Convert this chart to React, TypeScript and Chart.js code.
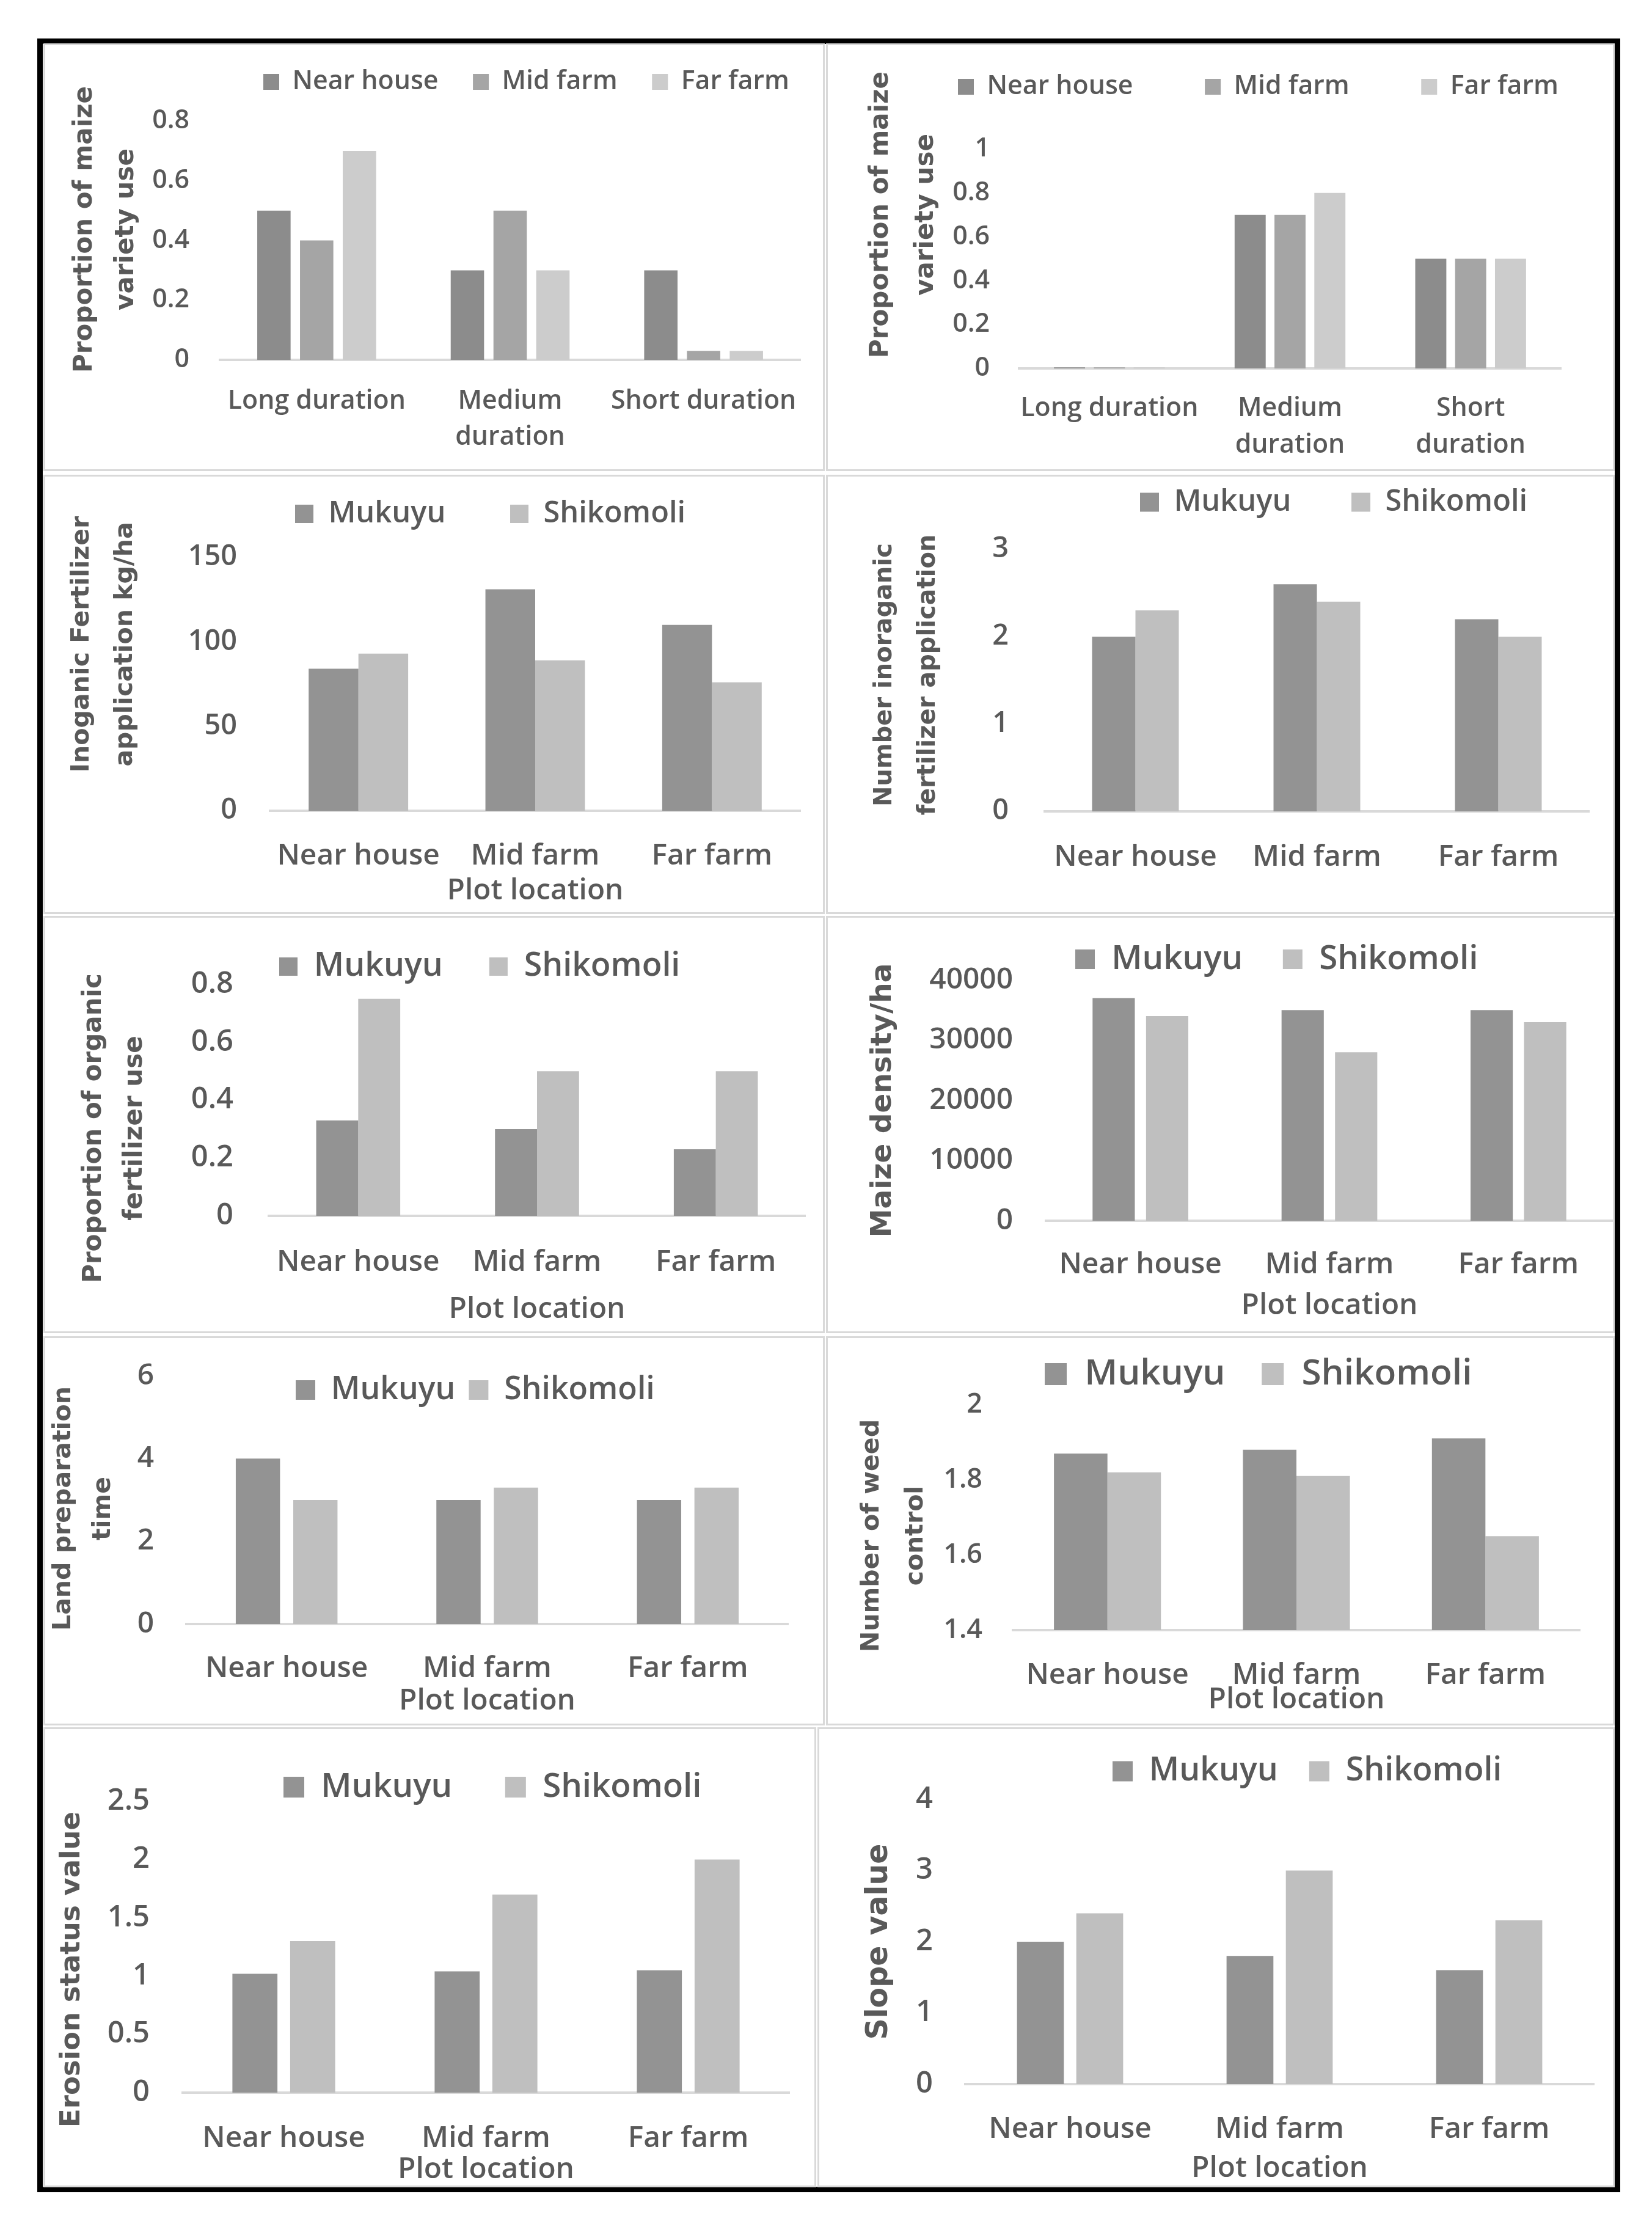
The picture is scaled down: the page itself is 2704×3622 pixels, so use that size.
import React, { useEffect, useRef } from 'react';
import { Chart, registerables } from 'chart.js';

Chart.register(...registerables);

// ---------------- data ----------------
const durationCatsA: (string | string[])[] = ['Long duration', ['Medium', 'duration'], 'Short duration'];
const durationCatsB: (string | string[])[] = ['Long duration', ['Medium', 'duration'], ['Short', 'duration']];
const plotCats: string[] = ['Near house', 'Mid farm', 'Far farm'];
const locationNames: string[] = ['Near house', 'Mid farm', 'Far farm'];
const varietyNames: string[] = ['Mukuyu', 'Shikomoli'];

const varietyUseANear = [0.5, 0.3, 0.3];
const varietyUseAMid = [0.4, 0.5, 0.03];
const varietyUseAFar = [0.7, 0.3, 0.03];
const varietyUseBNear = [0.005, 0.7, 0.5];
const varietyUseBMid = [0.005, 0.7, 0.5];
const varietyUseBFar = [0.005, 0.8, 0.5];
const inorgKgMukuyu = [84, 131, 110];
const inorgKgShikomoli = [93, 89, 76];
const inorgCountMukuyu = [2.0, 2.6, 2.2];
const inorgCountShikomoli = [2.3, 2.4, 2.0];
const organicMukuyu = [0.33, 0.3, 0.23];
const organicShikomoli = [0.75, 0.5, 0.5];
const densityMukuyu = [37000, 35000, 35000];
const densityShikomoli = [34000, 28000, 33000];
const landPrepMukuyu = [4, 3, 3];
const landPrepShikomoli = [3, 3.3, 3.3];
const weedMukuyu = [1.87, 1.88, 1.91];
const weedShikomoli = [1.82, 1.81, 1.65];
const erosionMukuyu = [1.02, 1.04, 1.05];
const erosionShikomoli = [1.3, 1.7, 2.0];
const slopeMukuyu = [2.0, 1.8, 1.6];
const slopeShikomoli = [2.4, 3.0, 2.3];

// ---------------- styles ----------------
const TEXT = '#595959';
const AXIS = '#d9d9d9';
const TICK_FONT = "'Open Sans', 'Noto Sans', sans-serif";
const TICK_WEIGHT = '600';
const TITLE_FONT = "'DejaVu Sans', Verdana, sans-serif";
const C3 = ['#8c8c8c', '#a5a5a5', '#cccccc'];
const C2 = ['#939393', '#bfbfbf'];
const FONT_SCALE = 0.975;
const BOX_TEXT_GAP = 17;

type Series = { label: string; data: number[]; color: string };
type PanelCfg = {
  box: [number, number, number, number];
  plot: [number, number, number, number];
  labels: (string | string[])[];
  series: Series[];
  y: { min: number; max: number; step: number };
  yTick: { size: number; right: number };
  yTitle: { text: string | string[]; size: number; gap: number; x: number; dy: number };
  legend: { y: number; x: number; size: number; gap: number; box: number };
  xTick: { size: number; y: number; gap: number };
  xTitle?: { y: number; size: number };
  cp: number;
  bp: number;
};

const three = (a: number[], b: number[], c: number[]): Series[] => [
  { label: locationNames[0], data: a, color: C3[0] },
  { label: locationNames[1], data: b, color: C3[1] },
  { label: locationNames[2], data: c, color: C3[2] },
];
const two = (a: number[], b: number[]): Series[] => [
  { label: varietyNames[0], data: a, color: C2[0] },
  { label: varietyNames[1], data: b, color: C2[1] },
];

const panels: PanelCfg[] = [
  {
    box: [71, 71, 1350, 771], plot: [360, 198, 1310, 589], labels: durationCatsA,
    series: three(varietyUseANear, varietyUseAMid, varietyUseAFar),
    y: { min: 0, max: 0.8, step: 0.2 }, yTick: { size: 44, right: 310 },
    yTitle: { text: ['Proportion of maize', 'variety use'], size: 42, gap: 68, x: 139, dy: -18 },
    legend: { y: 134, x: 431, size: 44, gap: 61, box: 26 },
    xTick: { size: 44, y: 657, gap: 59 }, cp: 0.663, bp: 0.78,
  },
  {
    box: [1352, 71, 2643, 771], plot: [1668, 244, 2555, 603], labels: durationCatsB,
    series: three(varietyUseBNear, varietyUseBMid, varietyUseBFar),
    y: { min: 0, max: 1, step: 0.2 }, yTick: { size: 44, right: 1620 },
    yTitle: { text: ['Proportion of maize', 'variety use'], size: 42, gap: 74, x: 1442, dy: -72 },
    legend: { y: 142, x: 1568, size: 44, gap: 122, box: 26 },
    xTick: { size: 44, y: 669, gap: 60 }, cp: 0.662, bp: 0.78,
  },
  {
    box: [71, 777, 1350, 1496], plot: [442, 912, 1310, 1327], labels: plotCats,
    series: two(inorgKgMukuyu, inorgKgShikomoli),
    y: { min: 0, max: 150, step: 50 }, yTick: { size: 48, right: 388 },
    yTitle: { text: ['Inoganic Fertilizer', 'application kg/ha'], size: 41, gap: 71, x: 134, dy: -65 },
    legend: { y: 841, x: 483, size: 50, gap: 113, box: 30 },
    xTick: { size: 49, y: 1401, gap: 59 }, xTitle: { y: 1458, size: 49 }, cp: 0.563, bp: 1,
  },
  {
    box: [1352, 777, 2643, 1496], plot: [1710, 899, 2601, 1328], labels: plotCats,
    series: two(inorgCountMukuyu, inorgCountShikomoli),
    y: { min: 0, max: 3, step: 1 }, yTick: { size: 48, right: 1651 },
    yTitle: { text: ['Number inoraganic', 'fertilizer application'], size: 40, gap: 71, x: 1449, dy: -9 },
    legend: { y: 822, x: 1866, size: 50, gap: 106, box: 31 },
    xTick: { size: 49, y: 1403, gap: 59 }, cp: 0.478, bp: 1,
  },
  {
    box: [71, 1499, 1350, 2182], plot: [440, 1611, 1318, 1990], labels: plotCats,
    series: two(organicMukuyu, organicShikomoli),
    y: { min: 0, max: 0.8, step: 0.2 }, yTick: { size: 50, right: 382 },
    yTitle: { text: ['Proportion of organic', 'fertilizer use'], size: 42, gap: 67, x: 154, dy: 46 },
    legend: { y: 1582, x: 457, size: 55, gap: 86, box: 30 },
    xTick: { size: 49, y: 2066, gap: 59 }, xTitle: { y: 2143, size: 49 }, cp: 0.47, bp: 1,
  },
  {
    box: [1352, 1499, 2643, 2182], plot: [1712, 1604, 2640, 1998], labels: plotCats,
    series: two(densityMukuyu, densityShikomoli),
    y: { min: 0, max: 40000, step: 10000 }, yTick: { size: 49, right: 1658 },
    yTitle: { text: 'Maize density/ha', size: 47, gap: 56, x: 1446, dy: 0 },
    legend: { y: 1570, x: 1760, size: 56, gap: 76, box: 32 },
    xTick: { size: 49, y: 2070, gap: 59 }, xTitle: { y: 2137, size: 49 }, cp: 0.566, bp: 0.79,
  },
  {
    box: [71, 2187, 1350, 2824], plot: [305, 2252, 1290, 2658], labels: plotCats,
    series: two(landPrepMukuyu, landPrepShikomoli),
    y: { min: 0, max: 6, step: 2 }, yTick: { size: 49, right: 252 },
    yTitle: { text: ['Land preparation', 'time'], size: 41, gap: 65, x: 104, dy: 14 },
    legend: { y: 2275, x: 484, size: 53, gap: 31, box: 32 },
    xTick: { size: 49, y: 2731, gap: 59 }, xTitle: { y: 2784, size: 49 }, cp: 0.573, bp: 0.77,
  },
  {
    box: [1352, 2187, 2643, 2824], plot: [1658, 2299, 2586, 2668], labels: plotCats,
    series: two(weedMukuyu, weedShikomoli),
    y: { min: 1.4, max: 2, step: 0.2 }, yTick: { size: 46, right: 1608 },
    yTitle: { text: ['Number of weed', 'control'], size: 41, gap: 72, x: 1427, dy: 30 },
    legend: { y: 2249, x: 1710, size: 60, gap: 72, box: 36 },
    xTick: { size: 49, y: 2742, gap: 59 }, xTitle: { y: 2782, size: 49 }, cp: 0.566, bp: 1,
  },
  {
    box: [71, 2827, 1336, 3580], plot: [299, 2948, 1292, 3425], labels: plotCats,
    series: two(erosionMukuyu, erosionShikomoli),
    y: { min: 0, max: 2.5, step: 0.5 }, yTick: { size: 50, right: 245 },
    yTitle: { text: 'Erosion status value', size: 45, gap: 54, x: 118, dy: 37 },
    legend: { y: 2925, x: 464, size: 56, gap: 97, box: 34 },
    xTick: { size: 49, y: 3500, gap: 59 }, xTitle: { y: 3551, size: 49 }, cp: 0.571, bp: 0.78,
  },
  {
    box: [1338, 2827, 2643, 3580], plot: [1580, 2945, 2609, 3411], labels: plotCats,
    series: two(slopeMukuyu, slopeShikomoli),
    y: { min: 0, max: 4, step: 1 }, yTick: { size: 50, right: 1527 },
    yTitle: { text: 'Slope value', size: 49, gap: 59, x: 1439, dy: 0 },
    legend: { y: 2899, x: 1821, size: 55, gap: 61, box: 33 },
    xTick: { size: 49, y: 3485, gap: 59 }, xTitle: { y: 3549, size: 49 }, cp: 0.566, bp: 0.79,
  },
];

const fmt = (v: number | string) => String(Math.round(Number(v) * 1000) / 1000);
const fs = (n: number) => Math.round(n * FONT_SCALE * 10) / 10;

function ChartPanel({ cfg }: { cfg: PanelCfg }) {
  const ref = useRef<HTMLCanvasElement>(null);
  const [x0, y0, x1, y1] = cfg.box;
  const W = x1 - x0;
  const H = y1 - y0;

  useEffect(() => {
    const canvas = ref.current;
    if (!canvas) return;
    const pl = cfg.plot[0] - x0;
    const pt = cfg.plot[1] - y0;
    const pr = cfg.plot[2] - x0;
    const pb = cfg.plot[3] - y0;
    const lg = cfg.legend;
    const legendSize = fs(lg.size);
    const legendPad = Math.max(4, lg.gap + BOX_TEXT_GAP - legendSize / 2);
    const legendLeft = lg.x - x0 - legendPad;
    const legendTop = lg.y - y0 - legendPad - legendSize / 2;
    const yTitleLH = cfg.yTitle.gap;
    const yTitlePad = cfg.yTitle.x - x0 - yTitleLH / 2;
    const titleDy = cfg.yTitle.dy;
    const xTickPad = cfg.xTick.y - cfg.plot[3] - cfg.xTick.gap / 2;
    const xTickSize = fs(cfg.xTick.size);
    const xTitleSize = fs(cfg.xTitle ? cfg.xTitle.size : 49);
    const xTitleLH = xTitleSize * 1.2;
    const xTitlePad = cfg.xTitle ? Math.max(0, H - (cfg.xTitle.y - y0) - xTitleLH / 2) : 0;

    const layoutPlugin = {
      id: 'panelLayout',
      beforeLayout(chart: any) {
        const legend = chart.legend;
        if (legend && !legend.__patched) {
          const orig = legend.fit;
          legend.fit = function (this: any) {
            this.maxWidth = 100000;
            orig.call(this);
            this.height = pt;
          };
          legend.__patched = true;
        }
      },
      afterLayout(chart: any) {
        const legend = chart.legend;
        if (legend) {
          legend.left = legendLeft;
          legend.right = 100000;
          legend.top = legendTop;
          legend.bottom = legendTop + 2000;
        }
        const ys = chart.scales && chart.scales.y;
        if (ys && !ys.__titlePatched) {
          const origTitle = ys.drawTitle;
          ys.drawTitle = function (this: any) {
            const ctx = this.ctx;
            ctx.save();
            ctx.translate(0, titleDy);
            origTitle.call(this);
            ctx.restore();
          };
          ys.__titlePatched = true;
        }
      },
    };

    const chart = new Chart(canvas, {
      type: 'bar',
      data: {
        labels: cfg.labels as any,
        datasets: cfg.series.map((s) => ({
          label: s.label,
          data: s.data,
          backgroundColor: s.color,
          borderColor: s.color,
          borderWidth: 0,
          categoryPercentage: cfg.cp,
          barPercentage: cfg.bp,
        })),
      },
      options: {
        responsive: false,
        animation: false,
        devicePixelRatio: 1,
        events: [],
        layout: { padding: { left: 0, top: 0, right: W - pr, bottom: 0 } },
        plugins: {
          tooltip: { enabled: false },
          legend: {
            display: true,
            position: 'top',
            align: 'start',
            labels: {
              color: TEXT,
              font: { family: TICK_FONT, size: legendSize, weight: TICK_WEIGHT },
              boxWidth: lg.box,
              boxHeight: lg.box,
              padding: legendPad,
            },
          },
        },
        scales: {
          x: {
            type: 'category',
            offset: true,
            grid: { display: false, drawTicks: false },
            border: { display: true, color: AXIS, width: 4 },
            ticks: {
              color: TEXT,
              font: {
                family: TICK_FONT,
                size: xTickSize,
                weight: TICK_WEIGHT,
                lineHeight: cfg.xTick.gap / xTickSize,
              },
              padding: xTickPad,
              maxRotation: 0,
              minRotation: 0,
              autoSkip: false,
            },
            title: cfg.xTitle
              ? {
                  display: true,
                  text: 'Plot location',
                  color: TEXT,
                  font: { family: TICK_FONT, size: xTitleSize, weight: TICK_WEIGHT, lineHeight: 1.2 },
                  padding: { top: 0, bottom: xTitlePad },
                }
              : { display: false },
            afterFit: (s: any) => {
              s.height = H - pb;
              s.paddingLeft = 0;
              s.paddingRight = 0;
            },
          },
          y: {
            type: 'linear',
            min: cfg.y.min,
            max: cfg.y.max,
            grid: { display: false, drawTicks: false },
            border: { display: false },
            ticks: {
              stepSize: cfg.y.step,
              color: TEXT,
              font: { family: TICK_FONT, size: fs(cfg.yTick.size), weight: TICK_WEIGHT },
              padding: cfg.plot[0] - cfg.yTick.right,
              callback: (v: any) => fmt(v),
            },
            title: {
              display: true,
              text: cfg.yTitle.text as any,
              color: TEXT,
              font: {
                family: TITLE_FONT,
                weight: 'bold',
                size: cfg.yTitle.size,
                lineHeight: yTitleLH / cfg.yTitle.size,
              },
              padding: { top: yTitlePad, bottom: 0 },
            },
            afterFit: (s: any) => {
              s.width = pl;
              s.paddingTop = 0;
              s.paddingBottom = 0;
            },
          },
        },
      } as any,
      plugins: [layoutPlugin as any],
    });

    let alive = true;
    if ((document as any).fonts && (document as any).fonts.ready) {
      (document as any).fonts.ready.then(() => {
        if (alive) chart.update();
      });
    }
    return () => {
      alive = false;
      chart.destroy();
    };
  }, []);

  return (
    <>
      <div
        style={{
          position: 'absolute',
          left: x0,
          top: y0,
          width: W,
          height: H,
          border: `3px solid ${AXIS}`,
          boxSizing: 'border-box',
          background: '#ffffff',
        }}
      />
      <canvas
        ref={ref}
        width={W}
        height={H}
        style={{ position: 'absolute', left: x0, top: y0, width: W, height: H }}
      />
    </>
  );
}

export default function App() {
  return (
    <div
      style={{
        position: 'absolute',
        left: 0,
        top: 0,
        width: 2704,
        height: 3622,
        background: '#ffffff',
        overflow: 'hidden',
      }}
    >
      <div
        style={{
          position: 'absolute',
          left: 61,
          top: 63,
          width: 2591,
          height: 3525,
          border: '9px solid #000000',
          boxSizing: 'border-box',
        }}
      />
      {panels.map((p, i) => (
        <ChartPanel key={i} cfg={p} />
      ))}
    </div>
  );
}
